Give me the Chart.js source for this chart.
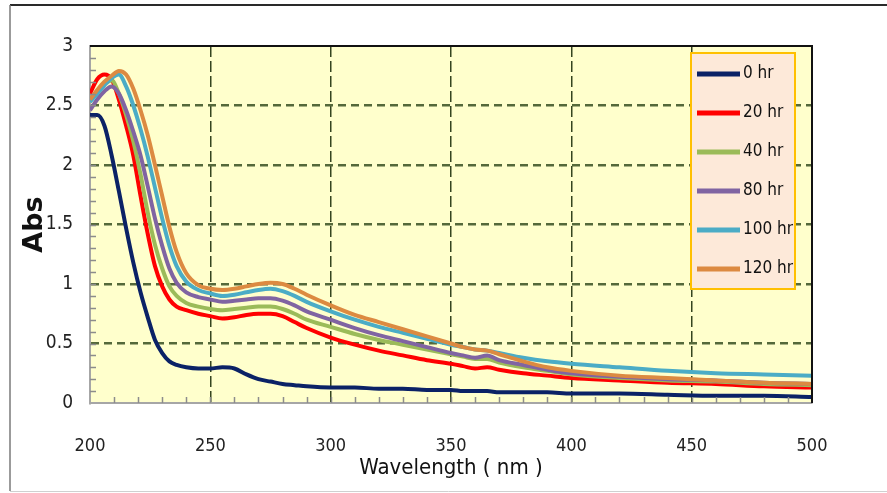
<!DOCTYPE html>
<html>
<head>
<meta charset="UTF-8">
<title>Abs vs Wavelength</title>
<script src="https://cdn.jsdelivr.net/npm/chart.js"></script>
<style>
  html, body { margin: 0; padding: 0; background: #fff; }
  #wrap { position: relative; width: 887px; height: 493px; }
</style>
</head>
<body>
<div id="wrap"><canvas id="absChart" width="887" height="493"></canvas></div>
<script>
// wavelengths (nm) shared by every series
const wavelength = [200, 203, 206, 209, 212, 215, 218, 221, 224, 227, 230, 233, 236, 240, 245,
  250, 255, 260, 265, 270, 275, 280, 285, 290, 300, 310, 320, 330, 340, 350,
  355, 360, 365, 370, 380, 390, 400, 420, 440, 460, 480, 500];

const seriesNames = ['0 hr', '20 hr', '40 hr', '80 hr', '100 hr', '120 hr'];

const abs0 = [2.42, 2.42, 2.33, 2.08, 1.78, 1.47, 1.18, 0.93, 0.72, 0.53, 0.42, 0.35, 0.32, 0.30, 0.29,
  0.29, 0.30, 0.29, 0.24, 0.20, 0.18, 0.16, 0.15, 0.14, 0.13, 0.13, 0.12, 0.12, 0.11, 0.11,
  0.10, 0.10, 0.10, 0.09, 0.09, 0.09, 0.08, 0.08, 0.07, 0.06, 0.06, 0.05];
const abs20 = [2.60, 2.72, 2.76, 2.72, 2.55, 2.33, 2.08, 1.74, 1.42, 1.15, 0.98, 0.87, 0.81, 0.78, 0.75,
  0.73, 0.71, 0.72, 0.74, 0.75, 0.75, 0.73, 0.68, 0.63, 0.55, 0.49, 0.44, 0.40, 0.36, 0.33,
  0.31, 0.29, 0.30, 0.28, 0.25, 0.23, 0.21, 0.19, 0.17, 0.16, 0.14, 0.13];
const abs40 = [2.55, 2.62, 2.68, 2.71, 2.60, 2.42, 2.20, 1.92, 1.60, 1.33, 1.13, 0.98, 0.90, 0.84, 0.81,
  0.79, 0.78, 0.79, 0.80, 0.81, 0.81, 0.79, 0.75, 0.70, 0.64, 0.58, 0.53, 0.49, 0.45, 0.41,
  0.39, 0.37, 0.37, 0.34, 0.30, 0.27, 0.24, 0.21, 0.19, 0.18, 0.16, 0.15];
const abs80 = [2.46, 2.55, 2.62, 2.66, 2.60, 2.46, 2.28, 2.08, 1.82, 1.55, 1.32, 1.13, 1.01, 0.93, 0.89,
  0.87, 0.85, 0.86, 0.87, 0.88, 0.88, 0.86, 0.82, 0.77, 0.70, 0.63, 0.57, 0.52, 0.47, 0.42,
  0.40, 0.38, 0.40, 0.36, 0.32, 0.28, 0.25, 0.22, 0.20, 0.19, 0.17, 0.16];
const abs100 = [2.53, 2.60, 2.67, 2.73, 2.76, 2.66, 2.50, 2.30, 2.07, 1.81, 1.55, 1.32, 1.15, 1.02, 0.95,
  0.92, 0.90, 0.91, 0.93, 0.95, 0.96, 0.94, 0.90, 0.85, 0.77, 0.70, 0.64, 0.59, 0.54, 0.49,
  0.47, 0.45, 0.44, 0.42, 0.38, 0.35, 0.33, 0.30, 0.27, 0.25, 0.24, 0.23];
const abs120 = [2.55, 2.63, 2.70, 2.75, 2.79, 2.76, 2.64, 2.46, 2.25, 2.00, 1.74, 1.48, 1.27, 1.09, 0.99,
  0.96, 0.95, 0.96, 0.98, 1.00, 1.01, 1.00, 0.96, 0.91, 0.82, 0.74, 0.68, 0.62, 0.56, 0.50,
  0.47, 0.45, 0.44, 0.41, 0.35, 0.30, 0.27, 0.23, 0.21, 0.19, 0.17, 0.16];

const xTicks = [200, 250, 300, 350, 400, 450, 500];
const yTicks = [0, 0.5, 1, 1.5, 2, 2.5, 3];

const allSeries = [abs0, abs20, abs40, abs80, abs100, abs120];
const lineColors = ['#0b2266', '#ff0000', '#9bbb59', '#8064a2', '#4bacc6', '#dc8a41'];

const narrow = "'Liberation Sans Narrow', 'DejaVu Sans Condensed', sans-serif";

// plot background, frame, borders, minor ticks and the boxed legend
const decorPlugin = {
  id: 'decor',
  beforeDraw(chart) {
    const { ctx, chartArea: a } = chart;
    ctx.save();
    ctx.fillStyle = '#ffffcc';
    ctx.fillRect(a.left, a.top, a.right - a.left, a.bottom - a.top);
    // outer frame
    ctx.lineWidth = 2;
    ctx.strokeStyle = '#2a2a2a';
    ctx.beginPath(); ctx.moveTo(10, 5); ctx.lineTo(887, 5); ctx.stroke();
    ctx.lineWidth = 1.5;
    ctx.strokeStyle = '#7a7a7a';
    ctx.beginPath(); ctx.moveTo(10, 5); ctx.lineTo(10, 491); ctx.stroke();
    ctx.lineWidth = 1;
    ctx.strokeStyle = '#d0d0d0';
    ctx.beginPath(); ctx.moveTo(10, 491.5); ctx.lineTo(887, 491.5); ctx.stroke();
    ctx.restore();
  },
  afterDraw(chart) {
    const { ctx, chartArea: a, scales } = chart;
    const x = scales.x, y = scales.y;
    ctx.save();
    // minor ticks
    ctx.strokeStyle = '#8c8c8c';
    ctx.lineWidth = 1.5;
    ctx.beginPath();
    for (let k = 1; k < 30; k++) {
      const py = Math.round(y.getPixelForValue(k / 10)) + 0.5;
      ctx.moveTo(a.left, py); ctx.lineTo(a.left + 6, py);
    }
    for (let k = 21; k < 50; k++) {
      const px = Math.round(x.getPixelForValue(k * 10)) + 0.5;
      ctx.moveTo(px, a.bottom); ctx.lineTo(px, a.bottom - 6);
    }
    ctx.stroke();
    // black top and right border
    ctx.strokeStyle = '#111';
    ctx.lineWidth = 2;
    ctx.beginPath();
    ctx.moveTo(a.left, a.top); ctx.lineTo(a.right, a.top); ctx.lineTo(a.right, a.bottom);
    ctx.stroke();

    // legend box
    const bx = 691, by = 53, bw = 104, bh = 236;
    ctx.fillStyle = '#fde9d9';
    ctx.fillRect(bx, by, bw, bh);
    ctx.strokeStyle = '#ffc000';
    ctx.lineWidth = 2;
    ctx.strokeRect(bx, by, bw, bh);
    ctx.font = '17px ' + narrow;
    ctx.textBaseline = 'middle';
    ctx.textAlign = 'left';
    chart.data.datasets.forEach((ds, i) => {
      const ry = 74 + i * 39;
      ctx.strokeStyle = ds.borderColor;
      ctx.lineWidth = 5;
      ctx.beginPath(); ctx.moveTo(697, ry); ctx.lineTo(740, ry); ctx.stroke();
      ctx.fillStyle = '#111';
      ctx.fillText(ds.label, 743, ry);
    });
    ctx.restore();
  }
};

const datasets = seriesNames.map((name, i) => ({
  label: name,
  data: wavelength.map((w, j) => ({ x: w, y: allSeries[i][j] })),
  borderColor: lineColors[i],
  borderWidth: 4,
  pointRadius: 0,
  cubicInterpolationMode: 'monotone',
  order: seriesNames.length - i
}));

new Chart(document.getElementById('absChart'), {
  type: 'line',
  data: { datasets: datasets },
  plugins: [decorPlugin],
  options: {
    responsive: false,
    animation: false,
    layout: { padding: { top: 46, right: 75, left: 0, bottom: 0 } },
    plugins: { legend: { display: false }, tooltip: { enabled: false } },
    scales: {
      x: {
        type: 'linear',
        min: 200, max: 500,
        afterFit(scale) { scale.height = 90; },
        afterBuildTicks(scale) { scale.ticks = xTicks.map(v => ({ value: v })); },
        ticks: { color: '#222', padding: 33, font: { family: narrow, size: 18 }, callback: v => String(v) },
        grid: {
          drawTicks: false,
          lineWidth: 1.5,
          color: ctx => (ctx.tick && (ctx.tick.value === 200 || ctx.tick.value === 500)) ? 'rgba(0,0,0,0)' : '#35451f'
        },
        border: { display: true, color: '#a6a6a6', width: 2, dash: [11, 4] },
        title: {
          display: true, text: 'Wavelength ( nm )', color: '#111',
          font: { family: narrow, size: 22 }, padding: { top: 0, bottom: 12 }
        }
      },
      y: {
        min: 0, max: 3,
        afterFit(scale) { scale.width = 90; },
        afterBuildTicks(scale) { scale.ticks = yTicks.map(v => ({ value: v })); },
        ticks: { color: '#222', padding: 17, font: { family: narrow, size: 19 }, callback: v => String(v) },
        grid: {
          drawTicks: false,
          lineWidth: 2.5,
          color: ctx => (ctx.tick && (ctx.tick.value === 0 || ctx.tick.value === 3)) ? 'rgba(0,0,0,0)' : '#55693a'
        },
        border: { display: true, color: '#a6a6a6', width: 2, dash: [8, 5] },
        title: {
          display: true, text: 'Abs', color: '#111',
          font: { family: "'DejaVu Sans', sans-serif", size: 27, weight: 'bold' }, padding: { top: 19, bottom: 0 }
        }
      }
    }
  }
});
</script>
</body>
</html>
